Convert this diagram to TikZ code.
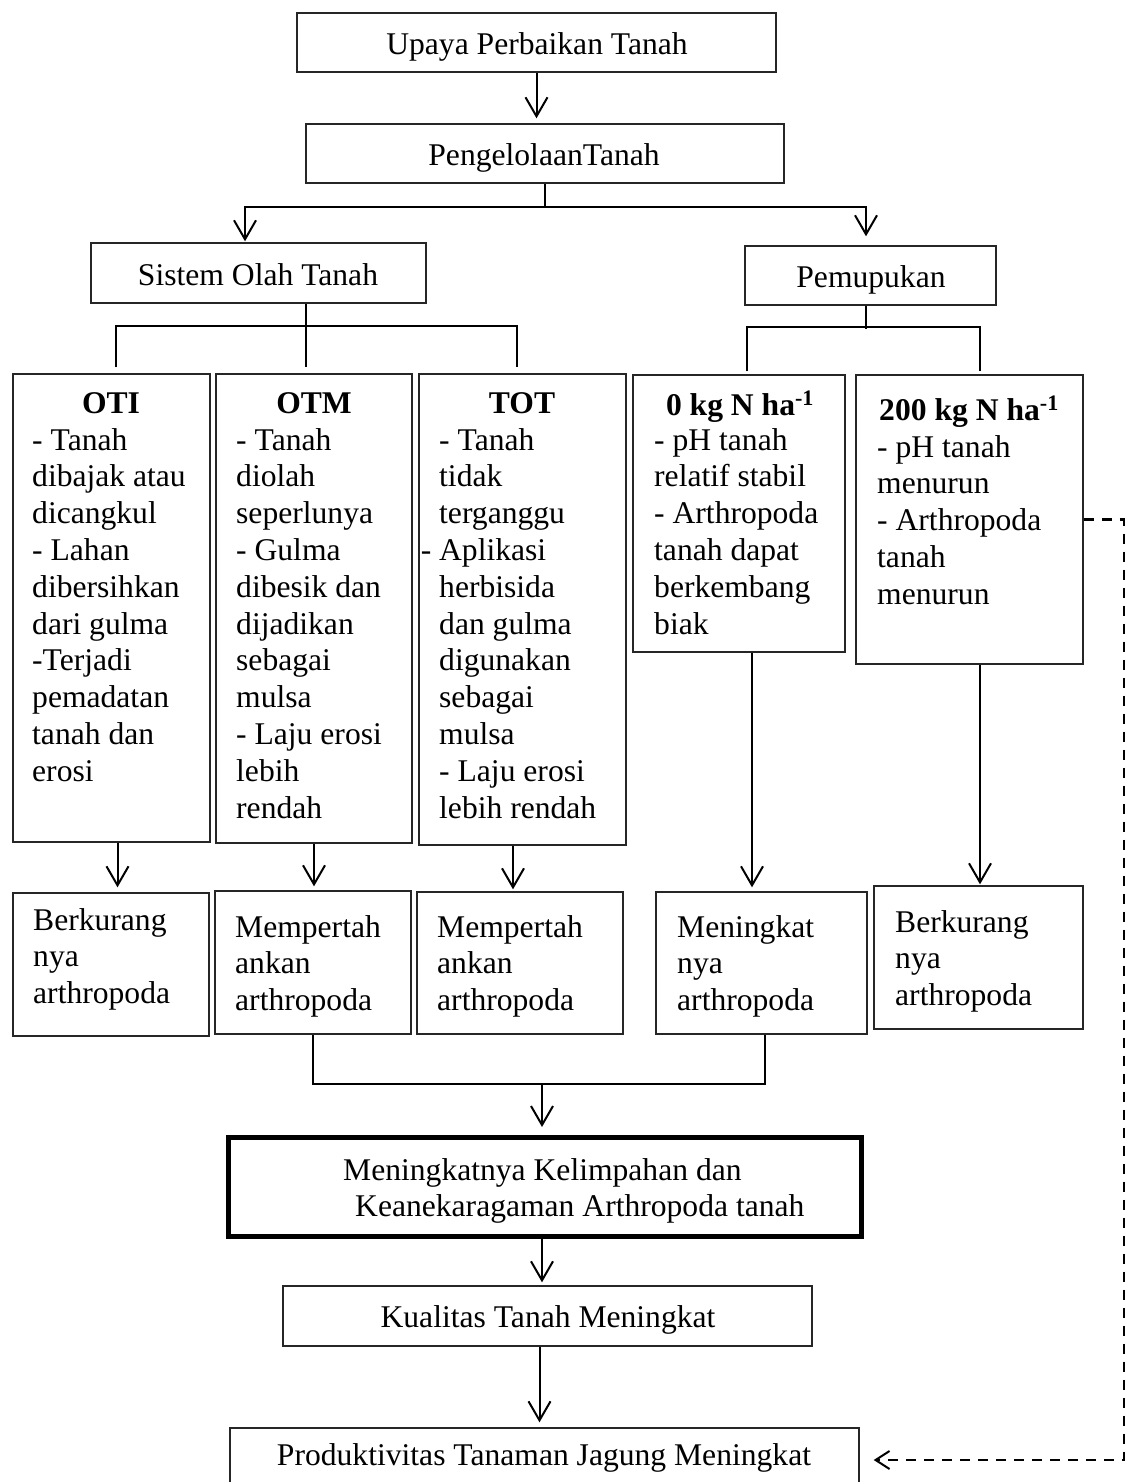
\documentclass[tikz,border=0pt]{standalone}
\usepackage{fontspec}
\setmainfont{Liberation Serif}
\usetikzlibrary{arrows.meta}
\newcommand\myfs{\fontsize{31.6}{36.8}\selectfont}
\newcommand\mkbox[6][]{%
  \node[bx,#1,minimum width={(#5-#3)*1pt},minimum height={(#6-#4)*1pt}] (#2) at ({(#3+#5)/2},{(#4+#6)/2}) {};}
\begin{document}
\begin{tikzpicture}[x=1pt,y=-1pt,
  bx/.style={draw=black!85, line width=1.4pt, inner sep=0pt},
  txt/.style={inner sep=0pt, anchor=north west, align=left, font=\myfs},
  lbl/.style={inner sep=0pt, anchor=base, font=\myfs},
  ttl/.style={inner sep=0pt, anchor=base, font=\myfs\bfseries},
  ln/.style={line width=2pt},
  arr/.style={line width=2pt, -{Straight Barb[length=19pt,width=22pt,line width=2pt]}},
  dsh/.style={line width=2.4pt, dash pattern=on 10pt off 8pt, -{Straight Barb[length=14pt,width=18pt,line width=2pt]}}]
\path[use as bounding box, clip] (0,0) rectangle (1125,1482);
\fill[white] (0,0) rectangle (1125,1482);

% boxes
\mkbox{upaya}{297}{13}{776}{72}
\mkbox{peng}{306}{124}{784}{183}
\mkbox{sos}{91}{243}{426}{303}
\mkbox{pem}{745}{246}{996}{305}
\mkbox{oti}{13}{374}{210}{842}
\mkbox{otm}{216}{374}{412}{843}
\mkbox{tot}{419}{374}{626}{845}
\mkbox{nzero}{633}{375}{845}{652}
\mkbox{nhigh}{856}{375}{1083}{664}
\mkbox{ra}{13}{893}{209}{1036}
\mkbox{rb}{215}{891}{411}{1034}
\mkbox{rc}{417}{892}{623}{1034}
\mkbox{rd}{656}{892}{867}{1034}
\mkbox{re}{874}{886}{1083}{1029}
\mkbox[line width=5pt, draw=black]{big}{228.5}{1137.5}{861.5}{1236.5}
\mkbox{kual}{283}{1286}{812}{1346}
\mkbox{prod}{230}{1428}{859}{1492}

% single-line labels
\node[lbl] (upayaT) at (537,55) {Upaya Perbaikan Tanah};
\node[lbl] (pengT) at (544,166) {PengelolaanTanah};
\node[lbl] (sosT) at (258,285) {Sistem Olah Tanah};
\node[lbl] (pemT) at (871,287) {Pemupukan};
\node[lbl] (kualT) at (548,1327) {Kualitas Tanah Meningkat};
\node[lbl] (prodT) at (544,1465) {Produktivitas Tanaman Jagung Meningkat};

% titles
\node[ttl] (otiH) at (111,413) {OTI};
\node[ttl] (otmH) at (314,413) {OTM};
\node[ttl] (totH) at (522,413) {TOT};
\node[ttl] (nzeroH) at (740,415) {0 kg N ha\textsuperscript{-1}};
\node[ttl] (nhighH) at (969,420) {200 kg N ha\textsuperscript{-1}};

% bodies (north = first baseline - 25.8)
\node[txt] (otiB) at (32,424.2) {\strut - Tanah\\dibajak atau\\dicangkul\\- Lahan\\dibersihkan\\dari gulma\\-Terjadi\\pemadatan\\tanah dan\\erosi};
\node[txt] (otmB) at (236,424.2) {\strut - Tanah\\diolah\\seperlunya\\- Gulma\\dibesik dan\\dijadikan\\sebagai\\mulsa\\- Laju erosi\\lebih\\rendah};
\node[txt] (totB) at (439,424.2) {\strut - Tanah\\tidak\\terganggu\\\llap{- }Aplikasi\\herbisida\\dan gulma\\digunakan\\sebagai\\mulsa\\- Laju erosi\\lebih rendah};
\node[txt] (nzeroB) at (654,424.2) {\strut - pH tanah\\relatif stabil\\- Arthropoda\\tanah dapat\\berkembang\\biak};
\node[txt] (nhighB) at (877,431.2) {\strut - pH tanah\\menurun\\- Arthropoda\\tanah\\menurun};

\node[txt] (raT) at (33,904.2) {\strut Berkurang\\nya\\arthropoda};
\node[txt] (rbT) at (235,911.2) {\strut Mempertah\\ankan\\arthropoda};
\node[txt] (rcT) at (437,911.2) {\strut Mempertah\\ankan\\arthropoda};
\node[txt] (rdT) at (677,911.2) {\strut Meningkat\\nya\\arthropoda};
\node[txt] (reT) at (895,906.2) {\strut Berkurang\\nya\\arthropoda};

\node[txt] (bigT) at (343,1154.2) {\strut Meningkatnya Kelimpahan dan\\\hspace*{12pt}Keanekaragaman Arthropoda tanah};

% connectors
\draw[arr, shorten >=5pt] (upaya.south) -- (upaya.south |- peng.north);
\draw[arr, shorten >=1pt] (peng.south) -- ++(0,23) -| ([xshift=-13.5pt]sos.north);
\draw[arr, shorten >=9pt] (peng.south) ++(0,23) -| ([xshift=-4.5pt]pem.north);

\draw[ln, shorten >=6pt] ([xshift=47.5pt]sos.south) -- ([xshift=-8pt]otm.north);
\draw[ln] ([xshift=4.5pt,yshift=6pt]oti.north) -- ++(0,-41) -| ([xshift=-5.5pt,yshift=6pt]tot.north);

\draw[ln] ([xshift=-4.5pt]pem.south) -- ++(0,23);
\draw[ln] ([xshift=8pt,yshift=3pt]nzero.north) -- ++(0,-44) -| ([xshift=10.5pt,yshift=3pt]nhigh.north);

\draw[arr, shorten >=5pt] ([xshift=6pt]oti.south) -- ([xshift=6pt]oti.south |- ra.north);
\draw[arr, shorten >=4pt] (otm.south) -- (otm.south |- rb.north);
\draw[arr, shorten >=2pt] ([xshift=-9.5pt]tot.south) -- ([xshift=-9.5pt]tot.south |- rc.north);
\draw[arr, shorten >=4pt] ([xshift=13pt]nzero.south) -- ([xshift=13pt]nzero.south |- rd.north);
\draw[arr, shorten >=1pt] ([xshift=10.5pt]nhigh.south) -- ([xshift=10.5pt]nhigh.south |- re.north);

\draw[ln] (rb.south) -- ++(0,49) coordinate (jl) -| ([xshift=3.5pt]rd.south);
\draw[arr, shorten >=8pt] ([xshift=-3pt]jl -| big.north) -- ([xshift=-3pt]big.north);
\draw[arr, shorten >=3pt] ([xshift=-3pt]big.south) -- ([xshift=-3pt]big.south |- kual.north);
\draw[arr, shorten >=5pt] ([xshift=-8pt]kual.south) -- ([xshift=-8pt]kual.south |- prod.north);

\draw[dsh, shorten >=14pt] (nhigh.east) -- ++(40,0) |- (prod.east);
\end{tikzpicture}
\end{document}
